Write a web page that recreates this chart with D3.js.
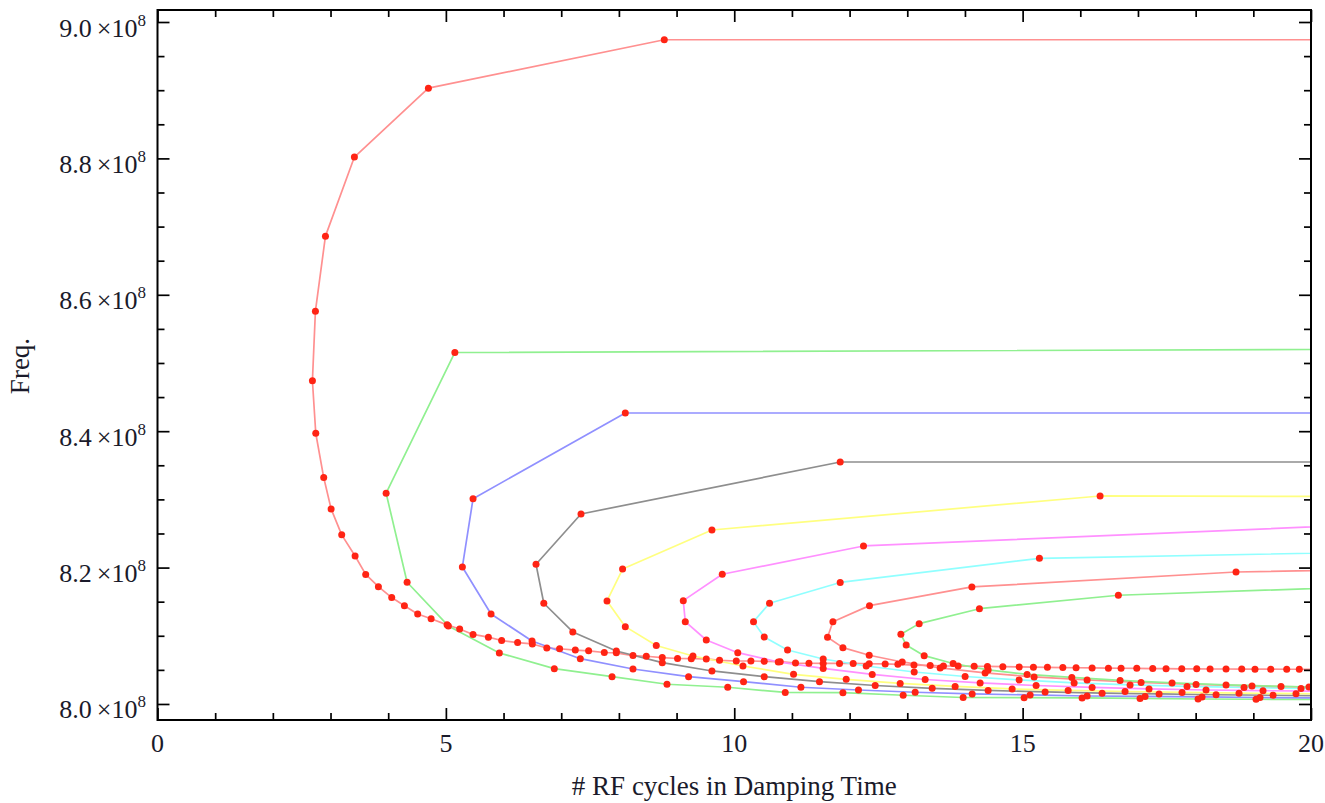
<!DOCTYPE html>
<html>
<head>
<meta charset="utf-8">
<script src="https://cdn.jsdelivr.net/npm/d3@7"></script>
<style>
  body { margin: 0; background: #fff; }
  text { font-family: "Liberation Serif", "DejaVu Serif", serif; fill: #1a1a2a; }
</style>
</head>
<body>
<script>
// frequency values are in units of 1e8 Hz, x = # RF cycles in damping time
// each curve starts at its far (off-plot) upper end and runs round to the lower branch
var curve1 = [[24, 8.974], [8.787, 8.974], [4.697, 8.903], [3.414, 8.802], [2.912, 8.686], [2.738, 8.576],
  [2.686, 8.474], [2.744, 8.397], [2.882, 8.332], [3.010, 8.286], [3.194, 8.248], [3.426, 8.217],
  [3.610, 8.190], [3.830, 8.172], [4.061, 8.156], [4.281, 8.144], [4.511, 8.132], [4.744, 8.125],
  [5.021, 8.116], [5.239, 8.110], [5.471, 8.102], [5.737, 8.098], [5.967, 8.093], [6.244, 8.090],
  [6.499, 8.088], [6.750, 8.082], [6.972, 8.081], [7.244, 8.079], [7.475, 8.078], [7.747, 8.0755],
  [7.955, 8.075], [8.244, 8.071], [8.475, 8.070], [8.752, 8.068], [9.017, 8.0667], [9.255, 8.0664],
  [9.515, 8.066], [9.745, 8.064], [10.035, 8.063], [10.289, 8.063], [10.520, 8.0626], [10.797, 8.062],
  [11.062, 8.060], [11.295, 8.0597], [11.542, 8.0594], [11.825, 8.0594], [12.062, 8.0594], [12.340, 8.059],
  [12.617, 8.0587], [12.837, 8.0582], [13.116, 8.057], [13.397, 8.0565], [13.627, 8.0557], [13.882, 8.0557],
  [14.16, 8.0553], [14.39, 8.055], [14.657, 8.0547], [14.94, 8.0543], [15.187, 8.054], [15.43, 8.0537],
  [15.697, 8.0534], [15.927, 8.0531], [16.205, 8.0528], [16.487, 8.0525], [16.707, 8.0524], [16.979, 8.0522],
  [17.256, 8.0519], [17.487, 8.0518], [17.759, 8.0516], [18.019, 8.0515], [18.250, 8.0513], [18.527, 8.0513],
  [18.799, 8.0512], [19.029, 8.051], [19.302, 8.051], [19.579, 8.0509], [19.797, 8.0509], [21, 8.0505]];

var curve2 = [[24, 8.521], [5.156, 8.5154], [3.964, 8.309], [4.328, 8.1785], [5.043, 8.1144], [5.927, 8.0748],
  [6.880, 8.0518], [7.881, 8.0400], [8.834, 8.0289], [9.887, 8.0245], [10.884, 8.0169], [11.884, 8.0166],
  [12.929, 8.0128], [13.969, 8.0095], [15.026, 8.0093], [16.031, 8.0088], [17.036, 8.0081], [18.042, 8.0073],
  [19.047, 8.0069], [20.052, 8.0066]];

var curve3 = [[24, 8.4267], [8.111, 8.4267], [5.471, 8.3010], [5.286, 8.2009], [5.783, 8.1320], [6.494, 8.0924],
  [7.331, 8.0664], [8.244, 8.0513], [9.208, 8.0400], [10.161, 8.0327], [11.156, 8.0245], [12.154, 8.0205],
  [13.137, 8.0172], [14.125, 8.0147], [15.130, 8.0132], [16.118, 8.0117], [17.123, 8.0110], [18.111, 8.0103],
  [19.116, 8.0095], [20.12, 8.0088]];

var curve4 = [[24, 8.3548], [11.837, 8.3548], [7.343, 8.2786], [6.563, 8.2048], [6.698, 8.1477], [7.201, 8.1056],
  [7.955, 8.0777], [8.752, 8.0606], [9.613, 8.0484], [10.520, 8.0400], [11.478, 8.0327], [12.444, 8.0271],
  [13.432, 8.0230], [14.402, 8.0198], [15.390, 8.0176], [16.378, 8.0158], [17.366, 8.0147], [18.354, 8.0135],
  [19.342, 8.0128], [20.33, 8.0120]];

var curve5 = [[24, 8.3035], [16.343, 8.3050], [9.613, 8.2551], [8.064, 8.1979], [7.794, 8.1510], [8.111, 8.1134],
  [8.648, 8.0858], [9.284, 8.0704], [10.151, 8.0557], [11.028, 8.0435], [11.941, 8.0362], [12.877, 8.0301],
  [13.830, 8.0257], [14.818, 8.0220], [15.789, 8.0198], [16.776, 8.0183], [17.764, 8.0169], [18.752, 8.0158],
  [19.740, 8.0151], [20.728, 8.0147]];

var curve6 = [[24, 8.274], [12.241, 8.2317], [9.792, 8.1902], [9.116, 8.1515], [9.151, 8.1207], [9.515, 8.0938],
  [10.061, 8.0752], [10.763, 8.0616], [11.542, 8.0521], [12.392, 8.0433], [13.310, 8.0359], [14.263, 8.0308],
  [15.234, 8.0271], [16.205, 8.0242], [17.192, 8.0220], [18.180, 8.0205], [19.168, 8.0195], [20.156, 8.0188]];

var curve7 = [[24, 8.2273], [15.291, 8.2136], [11.837, 8.1782], [10.612, 8.1477], [10.334, 8.1207], [10.520, 8.0982],
  [10.924, 8.0792], [11.542, 8.0660], [12.288, 8.0557], [13.120, 8.0469], [14.003, 8.0403], [14.939, 8.0352],
  [15.893, 8.0308], [16.863, 8.0279], [17.851, 8.0257], [18.839, 8.0242], [19.827, 8.0227], [20.815, 8.0220]];

var curve8 = [[24, 8.2015], [18.700, 8.1935], [14.120, 8.1716], [12.345, 8.1442], [11.711, 8.1207], [11.617, 8.0978],
  [11.884, 8.0826], [12.340, 8.0714], [12.912, 8.0616], [13.570, 8.0528], [14.350, 8.0455], [15.199, 8.0396],
  [16.118, 8.0352], [17.054, 8.0315], [18.007, 8.0286], [18.977, 8.0264], [19.965, 8.0249], [20.953, 8.0238]];

var curve9 = [[24, 8.1808], [16.660, 8.1594], [14.251, 8.1397], [13.206, 8.1178], [12.889, 8.1022], [12.981, 8.0865],
  [13.293, 8.0708], [13.795, 8.0594], [14.402, 8.0499], [15.078, 8.0433], [15.853, 8.0389], [16.690, 8.0345],
  [17.591, 8.0308], [18.527, 8.0279], [19.480, 8.0257], [20.468, 8.0242]];

var curves = [curve1, curve2, curve3, curve4, curve5, curve6, curve7, curve8, curve9];
var curveColors = ["#ff9090", "#90f090", "#9090ff", "#8e8e8e", "#ffff80", "#ff90ff", "#90ffff", "#ff9090", "#90f090"];

var xTickLabels = [0, 5, 10, 15, 20];
var yTickLabels = [8.0, 8.2, 8.4, 8.6, 8.8, 9.0];

var width = 1325, height = 803;
var frame = {left: 157.5, right: 1311, top: 10, bottom: 720};

var x = d3.scaleLinear()
  .domain([0, 20])
  .range([frame.left, frame.right]);

var y = d3.scaleLinear()
  .domain([7.9765, 9.0176])
  .range([frame.bottom, frame.top]);

var svg = d3.select("body").append("svg")
  .attr("width", width)
  .attr("height", height);

svg.append("defs").append("clipPath")
  .attr("id", "plotclip")
  .append("rect")
  .attr("x", frame.left)
  .attr("y", frame.top)
  .attr("width", frame.right - frame.left)
  .attr("height", frame.bottom - frame.top);

var plot = svg.append("g").attr("clip-path", "url(#plotclip)");

var line = d3.line()
  .x(function(d) { return x(d[0]); })
  .y(function(d) { return y(d[1]); });

plot.selectAll(".curve")
  .data(curves)
  .enter().append("path")
  .attr("class", "curve")
  .attr("fill", "none")
  .attr("stroke", function(d, i) { return curveColors[i]; })
  .attr("stroke-width", 1.7)
  .attr("stroke-linejoin", "round")
  .attr("d", line);

plot.selectAll(".pts")
  .data(curves)
  .enter().append("g")
  .attr("class", "pts")
  .selectAll("circle")
  .data(function(d) { return d; })
  .enter().append("circle")
  .attr("cx", function(d) { return x(d[0]); })
  .attr("cy", function(d) { return y(d[1]); })
  .attr("r", 3.5)
  .attr("fill", "#ff2414");

// ticks on all four sides, pointing inwards
var xMinor = d3.range(0, 20.5, 1).filter(function(v) { return v % 5 !== 0; });
var yMinor = d3.range(8.0, 9.01, 0.05).filter(function(v) { return Math.abs(v * 5 - Math.round(v * 5)) > 1e-6; });

function tickAxis(axis, vals, size, tr) {
  var g = svg.append("g")
    .attr("transform", tr)
    .call(axis.tickValues(vals).tickSize(-size).tickFormat(""));
  g.select(".domain").remove();
  g.selectAll("line").attr("stroke", "#000").attr("stroke-width", 1.7);
}

tickAxis(d3.axisBottom(x), xTickLabels, 12, "translate(0," + frame.bottom + ")");
tickAxis(d3.axisBottom(x), xMinor, 7, "translate(0," + frame.bottom + ")");
tickAxis(d3.axisTop(x), xTickLabels, 12, "translate(0," + frame.top + ")");
tickAxis(d3.axisTop(x), xMinor, 7, "translate(0," + frame.top + ")");
tickAxis(d3.axisLeft(y), yTickLabels, 12, "translate(" + frame.left + ",0)");
tickAxis(d3.axisLeft(y), yMinor, 7, "translate(" + frame.left + ",0)");
tickAxis(d3.axisRight(y), yTickLabels, 12, "translate(" + frame.right + ",0)");
tickAxis(d3.axisRight(y), yMinor, 7, "translate(" + frame.right + ",0)");

svg.append("rect")
  .attr("x", frame.left)
  .attr("y", frame.top)
  .attr("width", frame.right - frame.left)
  .attr("height", frame.bottom - frame.top)
  .attr("fill", "none")
  .attr("stroke", "#000")
  .attr("stroke-width", 2);

// tick labels
svg.selectAll(".xlab")
  .data(xTickLabels)
  .enter().append("text")
  .attr("class", "xlab")
  .attr("x", function(d) { return x(d); })
  .attr("y", 752)
  .attr("text-anchor", "middle")
  .style("font-size", "26px")
  .text(function(d) { return d; });

var ylab = svg.selectAll(".ylab")
  .data(yTickLabels)
  .enter().append("text")
  .attr("class", "ylab")
  .attr("x", 146)
  .attr("y", function(d) { return y(d) + 14.5; })
  .attr("text-anchor", "end")
  .style("font-size", "26px");

ylab.append("tspan").text(function(d) { return d.toFixed(1) + "\u2009\u00d710"; });
ylab.append("tspan")
  .attr("dy", -11)
  .style("font-size", "17px")
  .text("8");

// axis titles
svg.append("text")
  .attr("x", x(10))
  .attr("y", 795)
  .attr("text-anchor", "middle")
  .style("font-size", "27px")
  .text("# RF cycles in Damping Time");

svg.append("text")
  .attr("transform", "translate(28.5,366) rotate(-90)")
  .attr("text-anchor", "middle")
  .style("font-size", "27px")
  .text("Freq.");
</script>
</body>
</html>
